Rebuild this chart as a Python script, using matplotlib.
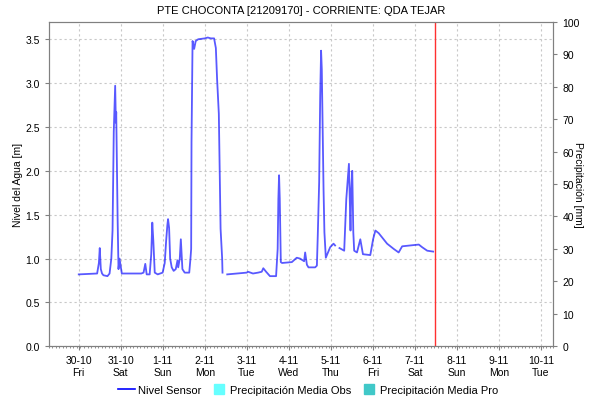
"""Water level at PTE CHOCONTA station with precipitation axis."""
from datetime import datetime, timedelta

import matplotlib.dates as mdates
import matplotlib.pyplot as plt
import numpy as np
from matplotlib.lines import Line2D
from matplotlib.ticker import FuncFormatter, MultipleLocator

plt.rcParams["font.family"] = ["Liberation Sans", "DejaVu Sans"]
plt.rcParams["font.size"] = 7.5

t0 = datetime(2020, 10, 30)

# hours after 30-10 00:00, sensor level in m (nan = no data)
hours = [0.0, 10.5, 11.5, 12.0, 12.6, 13.3, 14.1, 16.4, 17.6, 18.6, 19.3,
         20.0, 20.8, 21.2, 21.4, 21.8, 22.2, 22.7, 23.3, 23.7, 24.6, 35.7,
         37.0, 38.0, 38.8, 40.5, 41.4, 42.0, 42.6, 43.4, 45.1, 47.9, 49.1,
         49.9, 50.6, 51.0, 51.6, 52.2, 53.1, 54.2, 55.4, 56.4, 56.8, 57.7,
         58.3, 59.2, 60.5, 63.1, 63.8, 64.2, 64.4, 65.0, 65.9, 66.8, 68.2,
         72.0, 73.7, 75.4, 77.3, 78.3, 79.0, 80.0, 80.6, 81.0, 81.9, 82.1,
         83.5, 84.8, 95.9, 96.7, 99.5, 102.4, 104.5, 105.4, 107.0, 109.2,
         112.7, 113.6, 114.0, 114.4, 114.8, 115.4, 116.1, 121.7, 124.5,
         126.4, 128.7, 129.3, 130.3, 131.2, 135.0, 136.0, 136.5, 137.3,
         137.9, 138.4, 138.8, 139.2, 139.8, 140.3, 141.1, 143.6, 145.5,
         146.4, 147.6, 148.9, 151.6, 152.8, 154.3, 154.7, 155.2, 155.6,
         156.2, 156.8, 157.3, 158.9, 160.8, 162.3, 166.5, 168.1, 169.4,
         171.3, 176.1, 179.9, 182.7, 184.7, 189.4, 194.2, 196.1, 199.0,
         202.4]
level = [0.82, 0.83, 0.95, 1.12, 0.88, 0.83, 0.81, 0.80, 0.83, 1.00, 1.32,
         2.45, 2.97, 2.55, 2.67, 2.05, 1.45, 0.88, 1.00, 0.95, 0.83, 0.83,
         0.84, 0.94, 0.82, 0.82, 1.05, 1.41, 1.20, 0.84, 0.82, 0.84, 0.95,
         1.20, 1.38, 1.45, 1.35, 1.00, 0.90, 0.86, 0.88, 0.98, 0.90, 1.00,
         1.22, 0.88, 0.84, 0.84, 1.00, 1.11, 2.33, 3.48, 3.39, 3.48, 3.50,
         3.51, 3.52, 3.51, 3.51, 3.40, 3.05, 2.65, 1.87, 1.34, 1.00, 0.84,
         np.nan, 0.82, 0.84, 0.85, 0.83, 0.84, 0.85, 0.89, 0.85, 0.80,
         0.80, 1.11, 1.68, 1.95, 1.68, 0.96, 0.95, 0.96, 1.01,
         1.00, 0.97, 1.07, 0.93, 0.90, 0.90, 0.92, 1.26, 1.87,
         2.86, 3.37, 3.16, 2.59, 1.79, 1.30, 1.01, 1.13, 1.17,
         1.15, np.nan, 1.12, 1.09, 1.68, 2.08, 1.72, 1.32, 1.77,
         2.00, 1.30, 1.09, 1.07, 1.22, 1.05, 1.04, 1.22, 1.32,
         1.29, 1.17, 1.11, 1.07, 1.14, 1.15, 1.16, 1.13, 1.09,
         1.08]

now_hour = 203.7
x_start = t0 - timedelta(hours=17)
x_end = t0 + timedelta(days=11, hours=7)

times = [t0 + timedelta(hours=h) for h in hours]

fig = plt.figure(figsize=(5.93, 4.02), dpi=100)
ax = fig.add_axes([0.0826, 0.136, 0.8504, 0.8075])
ax2 = ax.twinx()

ax.plot(times, level, color="#0000ff", alpha=0.65, lw=1.3)
ax.axvline(t0 + timedelta(hours=now_hour), color="#ff3030", lw=1.0)

ax.set_xlim(x_start, x_end)
ax.set_ylim(0, 3.7)
ax2.set_ylim(0, 100)

ax.yaxis.set_major_locator(MultipleLocator(0.5))
ax.yaxis.set_major_formatter(FuncFormatter(lambda v, p: f"{v:.1f}"))
ax2.yaxis.set_major_locator(MultipleLocator(10))

ax.xaxis.set_major_locator(mdates.DayLocator())
ax.xaxis.set_minor_locator(mdates.HourLocator(interval=2))


def day_label(v, pos):
    d = mdates.num2date(v)
    return f"{d.day}-{d.month}\n{d:%a}"


ax.xaxis.set_major_formatter(FuncFormatter(day_label))

ax.grid(True, color="#c8c8c8", ls=(0, (2, 2.5)), lw=0.8)
for a in (ax, ax2):
    for s in a.spines.values():
        s.set_color("#808080")
    a.tick_params(colors="#808080", labelcolor="black", length=3, width=0.8)
ax.tick_params(axis="x", which="minor", length=1.5, width=0.6, colors="#808080")

ax.set_ylabel("Nivel del Agua [m]", va="center")
ax.yaxis.set_label_coords(-0.062, 0.5)
ax2.set_ylabel("Precipitación [mm]", rotation=-90, va="center")
ax2.yaxis.set_label_coords(1.049, 0.5)
ax.set_title("PTE CHOCONTA [21209170] - CORRIENTE: QDA TEJAR", fontsize=8, pad=6)

handles = [
    Line2D([], [], color="#0000ff", lw=1.2),
    Line2D([], [], marker="s", ls="none", markersize=7, color="#66ffff"),
    Line2D([], [], marker="s", ls="none", markersize=7, color="#40c8c8"),
]
labels = ["Nivel Sensor", "Precipitación Media Obs", "Precipitación Media Pro"]
fig.legend(handles, labels, loc="lower center", bbox_to_anchor=(0.52, -0.01),
           ncol=3, frameon=False, handlelength=1.5, handletextpad=0.3,
           columnspacing=0.8, fontsize=8)

fig.savefig("out.png", dpi=100)
